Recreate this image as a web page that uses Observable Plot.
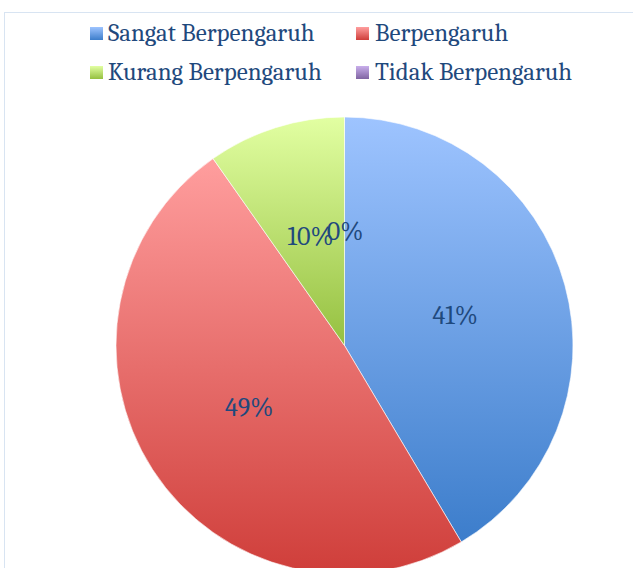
<!DOCTYPE html>
<html>
<head>
<meta charset="utf-8">
<script src="https://cdn.jsdelivr.net/npm/d3@7"></script>
<script src="https://cdn.jsdelivr.net/npm/@observablehq/plot@0.6"></script>
<style>
  html, body { margin: 0; padding: 0; background: #fff; }
  body { width: 633px; height: 568px; overflow: hidden; position: relative; font-family: Caladea, Cambria, "Liberation Serif", serif; }
  #frame { position: absolute; left: 4px; top: 12px; width: 700px; height: 700px;
           border-left: 1.5px solid #D8E4F2; border-top: 1.5px solid #D8E4F2; pointer-events: none; }
  #legend { position: relative; height: 95px; }
  .sw { position: absolute; width: 13px; height: 13px; }
  .lab { position: absolute; font-size: 24.9px; line-height: 24.9px; color: #1F497D; white-space: nowrap; }
  #chart { position: relative; }
</style>
</head>
<body>
<div id="frame"></div>
<div id="legend"></div>
<div id="chart"></div>
<script>
// ---- data ----
const categories = ["Sangat Berpengaruh", "Berpengaruh", "Kurang Berpengaruh", "Tidak Berpengaruh"];
const counts = [17, 20, 4, 0];
const colorTop = ["#9EC4FF", "#FF9E9E", "#E2FFA2", "#C8AEEB"];
const colorBottom = ["#3C7DCB", "#CF3E3A", "#95C040", "#8064A2"];

const total = d3.sum(counts);
const rows = categories.map((c, i) => ({ category: c, count: counts[i], i }));
const arcs = d3.pie().sort(null).value(d => d.count)(rows);
const labelData = arcs.map(a => {
  const mid = (a.startAngle + a.endAngle) / 2;
  return {
    x: 0.5 * Math.sin(mid),
    y: 0.5 * Math.cos(mid),
    text: Math.round(100 * a.data.count / total) + "%"
  };
});

// ---- legend (HTML, above the plot) ----
const legendPos = [
  { sx: 90, sy: 27, tx: 108, ty: 21.4 },
  { sx: 356, sy: 27, tx: 375, ty: 21.4 },
  { sx: 90, sy: 66, tx: 108, ty: 60.4 },
  { sx: 356, sy: 66, tx: 375, ty: 60.4 }
];
const legend = document.getElementById("legend");
categories.forEach((c, i) => {
  const p = legendPos[i];
  const sw = document.createElement("div");
  sw.className = "sw";
  sw.style.left = p.sx + "px"; sw.style.top = p.sy + "px";
  sw.style.background = `linear-gradient(${colorTop[i]}, ${colorBottom[i]})`;
  legend.appendChild(sw);
  const lab = document.createElement("div");
  lab.className = "lab";
  lab.style.left = p.tx + "px"; lab.style.top = p.ty + "px";
  lab.textContent = c;
  legend.appendChild(lab);
});

// ---- pie render mark using Plot's x/y scales ----
function pie(index, scales) {
  const cx = scales.x(0), cy = scales.y(0);
  const r = scales.x(1) - scales.x(0);
  const g = d3.create("svg:g");
  const defs = g.append("defs");
  arcs.forEach((a, i) => {
    const lg = defs.append("linearGradient").attr("id", "grad" + i)
      .attr("x1", 0).attr("y1", 0).attr("x2", 0).attr("y2", 1);
    lg.append("stop").attr("offset", 0).attr("stop-color", colorTop[i]);
    lg.append("stop").attr("offset", 1).attr("stop-color", colorBottom[i]);
  });
  const arc = d3.arc().innerRadius(0).outerRadius(r);
  g.append("g").attr("transform", `translate(${cx},${cy})`)
    .selectAll("path")
    .data(arcs.filter(a => a.endAngle > a.startAngle))
    .join("path")
    .attr("d", arc)
    .attr("fill", a => `url(#grad${a.data.i})`)
    .attr("stroke", "#fff")
    .attr("stroke-width", 0.6);
  return g.node();
}

const plot = Plot.plot({
  width: 633,
  height: 490,
  marginLeft: 116,
  marginRight: 60,
  marginTop: 22,
  marginBottom: 11,
  x: { domain: [-1, 1], axis: null },
  y: { domain: [-1, 1], axis: null },
  style: { background: "transparent", overflow: "visible" },
  marks: [
    pie,
    Plot.text(labelData, {
      x: "x", y: "y", text: "text",
      fontSize: 26,
      fontFamily: "Caladea, Cambria, 'Liberation Serif', serif",
      fill: "#1F497D",
      textAnchor: "middle",
      lineAnchor: "middle"
    })
  ]
});
document.getElementById("chart").appendChild(plot);
</script>
</body>
</html>
